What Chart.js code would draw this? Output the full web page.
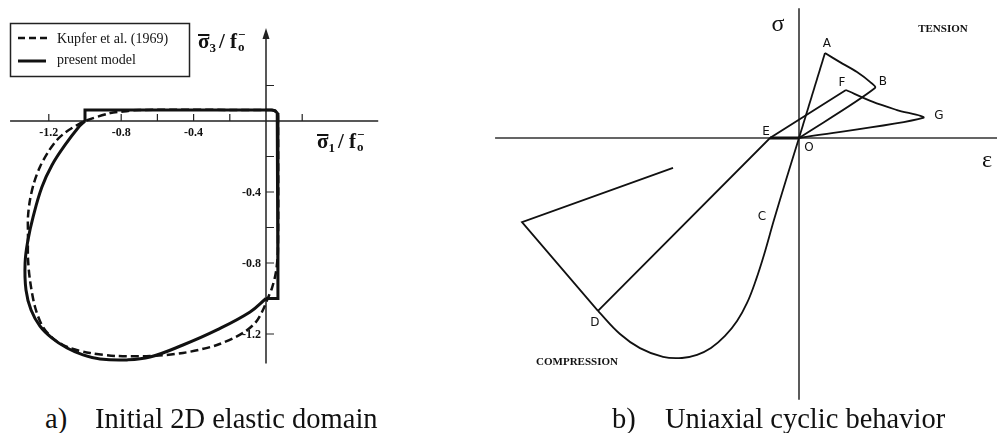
<!DOCTYPE html>
<html>
<head>
<meta charset="utf-8">
<script src="https://cdn.jsdelivr.net/npm/chart.js@4.4.1/dist/chart.umd.min.js"></script>
<style>
  body { margin: 0; background: #fff; width: 997px; height: 433px; overflow: hidden; position: relative; font-family: "Liberation Serif", serif; }
  #domainBox { position: absolute; left: 0; top: 0; width: 460px; height: 380px; }
  #cyclicBox { position: absolute; left: 480px; top: 0; width: 517px; height: 410px; }
  .caption { position: absolute; top: 403px; font-size: 28.5px; line-height: 32px; color: #111; white-space: nowrap; }
</style>
</head>
<body>
<div id="domainBox"><canvas id="domainChart" width="460" height="380"></canvas></div>
<div id="cyclicBox"><canvas id="cyclicChart" width="517" height="410"></canvas></div>
<div class="caption" style="left:45px">a)</div>
<div class="caption" style="left:95px">Initial 2D elastic domain</div>
<div class="caption" style="left:612px">b)</div>
<div class="caption" style="left:665px">Uniaxial cyclic behavior</div>

<script>
// ---- a) biaxial strength envelope, sigma1/f0 vs sigma3/f0 ----
// Kupfer et al. (1969) test envelope
const kupferS1 = [0.040, -0.700, -0.800, -0.860, -1.000, -1.044, -1.105, -1.155, -1.204, -1.249, -1.282, -1.304, -1.315, -1.315, -1.315, -1.304, -1.276, -1.232, -1.166, -1.083, -0.972, -0.823, -0.641, -0.459, -0.271, -0.127, -0.055, -0.017, 0.006, 0.033, 0.055, 0.066, 0.066, 0.062, 0.040];
const kupferS3 = [0.062, 0.062, 0.052, 0.045, 0.000, -0.023, -0.062, -0.107, -0.175, -0.259, -0.349, -0.445, -0.541, -0.642, -0.772, -0.896, -1.048, -1.161, -1.234, -1.279, -1.307, -1.324, -1.324, -1.307, -1.262, -1.194, -1.132, -1.065, -1.008, -0.941, -0.851, -0.727, 0.025, 0.045, 0.062];

// present model: tension-compression corners
const modelBoxS1 = [-1.000, -1.000, 0.030, 0.050, 0.062, 0.066, 0.066, 0.000];
const modelBoxS3 = [0.000, 0.062, 0.062, 0.058, 0.045, 0.025, -1.000, -1.000];

// present model: biaxial compression branch
const modelCurveS1 = [0.000, -0.088, -0.271, -0.459, -0.641, -0.768, -0.917, -1.011, -1.099, -1.182, -1.249, -1.298, -1.326, -1.331, -1.315, -1.287, -1.238, -1.182, -1.110, -1.039, -1.000];
const modelCurveS3 = [-1.000, -1.076, -1.177, -1.262, -1.330, -1.346, -1.341, -1.318, -1.279, -1.223, -1.155, -1.065, -0.952, -0.800, -0.670, -0.541, -0.372, -0.248, -0.135, -0.039, 0.000];

const domainTickLabels = [-1.2, -0.8, -0.4];
const domainTicks = [0.2, -0.2, -0.4, -0.6, -0.8, -1.0, -1.2];

// ---- b) uniaxial cyclic stress-strain path (strain / peak strain, stress / f0) ----
const tensionStrain = [0, 0.224, 0.353, 0.500, 0.612, 0.655, 0];
const tensionStress = [0, 0.386, 0.345, 0.300, 0.255, 0.227, 0];

const compStrain = [0, -0.112, -0.216, -0.302, -0.371, -0.448, -0.534, -0.638, -0.759, -0.879, -1.009, -1.172, -1.371, -1.543, -1.733];
const compStress = [0, -0.191, -0.373, -0.532, -0.645, -0.750, -0.832, -0.900, -0.955, -0.986, -1.000, -0.995, -0.955, -0.891, -0.786];

const softenStrain = [-1.733, -2.388, -1.086];
const softenStress = [-0.786, -0.382, -0.136];

const reloadStrain = [-1.733, -0.250, 0.405, 0.638, 0.845, 1.069, 0];
const reloadStress = [-0.786, 0, 0.218, 0.164, 0.127, 0.091, 0];

const closureStrain = [-0.250, 0];
const closureStress = [0, 0];

const pointNames = ['A', 'B', 'F', 'G', 'E', 'O', 'C', 'D'];

function toXY(xs, ys) {
  return xs.map((x, i) => ({ x: x, y: ys[i] }));
}

function lineSet(xs, ys, extra) {
  return Object.assign({
    data: toXY(xs, ys),
    showLine: true,
    borderColor: '#111',
    borderWidth: 3,
    pointRadius: 0,
    fill: false,
    tension: 0
  }, extra || {});
}

// sigma with overbar, index, then "/ f" with - over o
function drawRatioLabel(ctx, x, y, index, size) {
  ctx.save();
  ctx.fillStyle = '#111';
  ctx.strokeStyle = '#111';
  ctx.textBaseline = 'alphabetic';
  ctx.textAlign = 'left';
  ctx.font = 'bold ' + size + 'px "Liberation Serif"';
  ctx.fillText('σ', x, y);
  const sw = ctx.measureText('σ').width;
  ctx.lineWidth = 2;
  ctx.beginPath();
  ctx.moveTo(x, y - size * 0.62);
  ctx.lineTo(x + sw, y - size * 0.62);
  ctx.stroke();
  ctx.font = 'bold ' + Math.round(size * 0.6) + 'px "Liberation Serif"';
  ctx.fillText(index, x + sw, y + size * 0.2);
  let cx = x + sw + ctx.measureText(index).width + 3;
  ctx.font = 'bold ' + size + 'px "Liberation Serif"';
  ctx.fillText('/ f', cx, y);
  cx += ctx.measureText('/ f').width + 1;
  ctx.font = 'bold ' + Math.round(size * 0.6) + 'px "Liberation Serif"';
  ctx.fillText('−', cx, y - size * 0.42);
  ctx.fillText('o', cx, y + size * 0.15);
  ctx.restore();
}

const domainAxes = {
  id: 'domainAxes',
  beforeDatasetsDraw(chart) {
    const ctx = chart.ctx;
    const xs = chart.scales.x, ys = chart.scales.y;
    const x0 = xs.getPixelForValue(0), y0 = ys.getPixelForValue(0);
    ctx.save();
    ctx.strokeStyle = '#222';
    ctx.fillStyle = '#222';
    ctx.lineWidth = 1.5;
    ctx.beginPath();
    ctx.moveTo(xs.getPixelForValue(-1.414), y0);
    ctx.lineTo(xs.getPixelForValue(0.62), y0);
    ctx.moveTo(x0, ys.getPixelForValue(0.49));
    ctx.lineTo(x0, ys.getPixelForValue(-1.366));
    ctx.stroke();
    // arrow head on the sigma3 axis
    const tip = ys.getPixelForValue(0.524);
    ctx.beginPath();
    ctx.moveTo(x0, tip);
    ctx.lineTo(x0 - 3.5, tip + 11);
    ctx.lineTo(x0 + 3.5, tip + 11);
    ctx.closePath();
    ctx.fill();
    // ticks every 0.2
    ctx.lineWidth = 1.2;
    ctx.beginPath();
    [-1.2, -1.0, -0.8, -0.6, -0.4, -0.2, 0.2].forEach(v => {
      const px = xs.getPixelForValue(v);
      ctx.moveTo(px, y0);
      ctx.lineTo(px, y0 - 7);
    });
    domainTicks.forEach(v => {
      const py = ys.getPixelForValue(v);
      ctx.moveTo(x0, py);
      ctx.lineTo(x0 + 8, py);
    });
    ctx.stroke();
    // tick labels
    ctx.font = 'bold 12px "Liberation Serif"';
    ctx.fillStyle = '#111';
    ctx.textBaseline = 'middle';
    ctx.textAlign = 'center';
    domainTickLabels.forEach(v => {
      ctx.fillText(v.toFixed(1), xs.getPixelForValue(v), y0 + 12);
    });
    ctx.textAlign = 'right';
    domainTickLabels.forEach(v => {
      ctx.fillText(v.toFixed(1), x0 - 5, ys.getPixelForValue(v) + 1);
    });
    ctx.restore();
  },
  afterDatasetsDraw(chart) {
    const ctx = chart.ctx;
    drawRatioLabel(ctx, 198, 48, '3', 21);
    drawRatioLabel(ctx, 317, 148, '1', 21);
    // legend box
    ctx.save();
    ctx.fillStyle = '#fff';
    ctx.fillRect(10, 23, 180, 54);
    ctx.strokeStyle = '#222';
    ctx.lineWidth = 1.5;
    ctx.strokeRect(10.5, 23.5, 179, 53);
    ctx.strokeStyle = '#111';
    ctx.lineWidth = 2.5;
    ctx.setLineDash([7, 4]);
    ctx.beginPath();
    ctx.moveTo(18, 38);
    ctx.lineTo(47, 38);
    ctx.stroke();
    ctx.setLineDash([]);
    ctx.lineWidth = 3;
    ctx.beginPath();
    ctx.moveTo(18, 61);
    ctx.lineTo(46, 61);
    ctx.stroke();
    ctx.fillStyle = '#111';
    ctx.font = '14px "Liberation Serif"';
    ctx.textBaseline = 'alphabetic';
    ctx.fillText('Kupfer et al. (1969)', 57, 43);
    ctx.fillText('present model', 57, 64);
    ctx.restore();
  }
};

new Chart(document.getElementById('domainChart'), {
  type: 'scatter',
  data: {
    datasets: [
      lineSet(modelBoxS1, modelBoxS3, { label: 'present model' }),
      lineSet(modelCurveS1, modelCurveS3, { label: 'present model', tension: 0.4 }),
      lineSet(kupferS1, kupferS3, { label: 'Kupfer et al. (1969)', borderWidth: 2.5, borderDash: [8, 4], tension: 0.3 })
    ]
  },
  options: {
    responsive: false,
    animation: false,
    layout: { padding: 0 },
    plugins: { legend: { display: false }, tooltip: { enabled: false } },
    scales: {
      x: { type: 'linear', display: false, min: -1.4696, max: 1.0718 },
      y: { type: 'linear', display: false, min: -1.4592, max: 0.6817 }
    }
  },
  plugins: [domainAxes]
});

// label anchors in (strain, stress) units
const cyclicLabelAt = {
  A: [0.241, 0.427], B: [0.724, 0.255], F: [0.371, 0.250], G: [1.207, 0.100],
  E: [-0.284, 0.027], O: [0.086, -0.045], C: [-0.319, -0.359], D: [-1.759, -0.841]
};

const cyclicAxes = {
  id: 'cyclicAxes',
  beforeDatasetsDraw(chart) {
    const ctx = chart.ctx;
    const xs = chart.scales.x, ys = chart.scales.y;
    const x0 = xs.getPixelForValue(0), y0 = ys.getPixelForValue(0);
    ctx.save();
    ctx.strokeStyle = '#333';
    ctx.lineWidth = 1.6;
    ctx.beginPath();
    ctx.moveTo(xs.getPixelForValue(-2.62), y0);
    ctx.lineTo(chart.width, y0);
    ctx.moveTo(x0, ys.getPixelForValue(0.59));
    ctx.lineTo(x0, ys.getPixelForValue(-1.19));
    ctx.stroke();
    ctx.restore();
  },
  afterDatasetsDraw(chart) {
    const ctx = chart.ctx;
    const xs = chart.scales.x, ys = chart.scales.y;
    ctx.save();
    ctx.fillStyle = '#111';
    ctx.textAlign = 'center';
    ctx.textBaseline = 'middle';
    ctx.font = '12px "DejaVu Sans"';
    pointNames.forEach(n => {
      const p = cyclicLabelAt[n];
      ctx.fillText(n, xs.getPixelForValue(p[0]), ys.getPixelForValue(p[1]));
    });
    ctx.font = '24px "Liberation Serif"';
    ctx.fillText('σ', xs.getPixelForValue(-0.181), ys.getPixelForValue(0.505) - 2);
    ctx.fillText('ε', xs.getPixelForValue(1.621), ys.getPixelForValue(-0.114) - 2);
    ctx.font = 'bold 11px "Liberation Serif"';
    ctx.fillText('TENSION', xs.getPixelForValue(1.241), ys.getPixelForValue(0.495));
    ctx.fillText('COMPRESSION', xs.getPixelForValue(-1.914), ys.getPixelForValue(-1.018));
    ctx.restore();
  }
};

new Chart(document.getElementById('cyclicChart'), {
  type: 'scatter',
  data: {
    datasets: [
      lineSet(closureStrain, closureStress, { borderWidth: 3 }),
      lineSet(tensionStrain.slice(0, 2), tensionStress.slice(0, 2), { borderWidth: 1.8 }),
      lineSet(tensionStrain.slice(1), tensionStress.slice(1), { borderWidth: 1.8, tension: 0.3 }),
      lineSet(compStrain, compStress, { borderWidth: 1.8, tension: 0.4 }),
      lineSet(softenStrain, softenStress, { borderWidth: 1.8 }),
      lineSet(reloadStrain.slice(0, 3), reloadStress.slice(0, 3), { borderWidth: 1.8 }),
      lineSet(reloadStrain.slice(2), reloadStress.slice(2), { borderWidth: 1.8, tension: 0.3 })
    ]
  },
  options: {
    responsive: false,
    animation: false,
    layout: { padding: 0 },
    plugins: { legend: { display: false }, tooltip: { enabled: false } },
    scales: {
      x: { type: 'linear', display: false, min: -2.75, max: 1.7069 },
      y: { type: 'linear', display: false, min: -1.2364, max: 0.6273 }
    }
  },
  plugins: [cyclicAxes]
});
</script>
</body>
</html>
